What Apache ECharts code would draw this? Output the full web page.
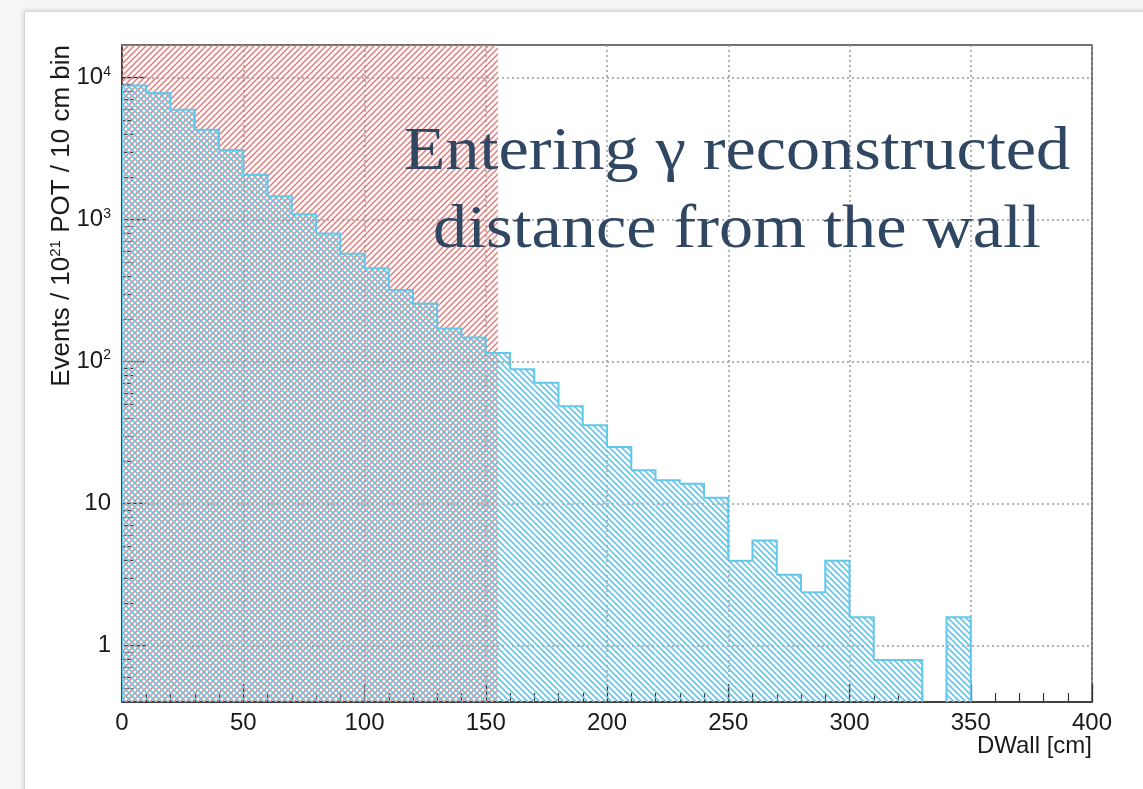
<!DOCTYPE html>
<html>
<head>
<meta charset="utf-8">
<script src="https://cdn.jsdelivr.net/npm/echarts@6/dist/echarts.min.js"></script>
<style>
  html, body { margin: 0; padding: 0; background: #f6f6f6; }
  body { position: relative; width: 1143px; height: 789px; overflow: hidden; }
  #card { position: absolute; left: 24px; top: 11px; width: 1200px; height: 900px;
          background: #fff; border: 1px solid #d6d6d6; box-shadow: 0 0 5px rgba(0,0,0,0.18); }
  #chart { position: absolute; left: 0; top: 0; width: 1143px; height: 789px; }
</style>
</head>
<body>
<div id="card"></div>
<div id="chart"></div>
<script>
// DWall histogram: 10 cm bins, events per 10^21 POT
const binWidth = 10;
const binStarts = [
  0, 10, 20, 30, 40, 50, 60, 70, 80, 90,
  100, 110, 120, 130, 140, 150, 160, 170, 180, 190,
  200, 210, 220, 230, 240, 250, 260, 270, 280, 290,
  300, 310, 320, 330, 340, 350, 360, 370, 380, 390
];
const eventsPerBin = [
  8800, 7800, 5950, 4300, 3100, 2070, 1460, 1090, 800, 575,
  455, 320, 257, 171, 148, 115, 88.5, 71, 48.5, 35.6,
  25, 17.2, 14.6, 13.8, 11.0, 3.95, 5.5, 3.15, 2.37, 3.95,
  1.58, 0.79, 0.79, 0, 1.58, 0, 0, 0, 0, 0
];
// fiducial cut region (shaded) on DWall
const cutRange = [0, 155];

const yDecades = [1, 10, 100, 1000, 10000];
const yDecadeExponents = [0, 1, 2, 3, 4];
const yRange = [0.4, 17000];

// minor log ticks: 2..9 times each decade, inside the range
const yMinorTicks = [];
[0.1, 1, 10, 100, 1000, 10000].forEach(function (d) {
  for (let k = 2; k <= 9; k++) {
    const v = +(d * k).toPrecision(3);
    if (v > yRange[0] && v < yRange[1]) yMinorTicks.push(v);
  }
});

function hatchPattern(color, dir, period, lw) {
  const c = document.createElement('canvas');
  c.width = period; c.height = period;
  const g = c.getContext('2d');
  g.strokeStyle = color;
  g.lineWidth = lw;
  g.lineCap = 'square';
  for (let k = -1; k <= 1; k++) {
    g.beginPath();
    if (dir === '/') {
      g.moveTo(k * period, period);
      g.lineTo(k * period + period, 0);
    } else {
      g.moveTo(k * period, 0);
      g.lineTo(k * period + period, period);
    }
    g.stroke();
  }
  return { image: c, repeat: 'repeat' };
}

const cyanColor = '#62c8ec';
const redColor = '#e47a78';
const cyanHatch = hatchPattern(cyanColor, '\\', 6, 1.7);
const redHatch = hatchPattern(redColor, '/', 6, 1.5);

const histData = binStarts.map(function (x, i) { return [x, eventsPerBin[i]]; });

function renderHist(params, api) {
  const i = params.dataIndex;
  const x0 = api.value(0);
  const v = api.value(1);
  if (!(v > 0)) return null;
  const x1 = x0 + binWidth;
  const cs = params.coordSys;
  const bottom = cs.y + cs.height;
  const tl = api.coord([x0, v]);
  const tr = api.coord([x1, v]);
  const prev = i > 0 ? eventsPerBin[i - 1] : 0;
  const next = i < eventsPerBin.length - 1 ? eventsPerBin[i + 1] : 0;
  const leftBase = prev >= v ? tl[1] : (prev > 0 ? api.coord([x0, prev])[1] : bottom);
  const rightBase = next >= v ? tr[1] : (next > 0 ? api.coord([x1, next])[1] : bottom);
  return {
    type: 'group',
    children: [
      {
        type: 'rect',
        shape: { x: tl[0], y: tl[1], width: tr[0] - tl[0], height: bottom - tl[1] },
        style: { fill: cyanHatch }
      },
      {
        type: 'polyline',
        shape: { points: [[tl[0], leftBase], tl, tr, [tr[0], rightBase]] },
        style: { stroke: cyanColor, lineWidth: 2, fill: null }
      }
    ]
  };
}

function renderCut(params, api) {
  const cs = params.coordSys;
  const a = api.coord([api.value(0), yRange[1]]);
  const b = api.coord([api.value(1), yRange[1]]);
  return {
    type: 'rect',
    shape: { x: a[0], y: cs.y, width: b[0] - a[0], height: cs.height },
    style: { fill: redHatch }
  };
}

const labelFont = 'Liberation Sans';
const labelColor = '#1a1a1a';
const chart = echarts.init(document.getElementById('chart'), null, { renderer: 'canvas' });

chart.setOption({
  animation: false,
  backgroundColor: 'transparent',
  grid: {
    left: 122, top: 45, right: 51, bottom: 87,
    show: true, borderColor: '#444', borderWidth: 1.5
  },
  xAxis: {
    type: 'value',
    min: 0, max: 400, interval: 50,
    axisLine: { show: true, lineStyle: { color: '#333', width: 1.5 } },
    axisTick: { inside: true, length: 18, lineStyle: { color: '#333', width: 1.3 } },
    minorTick: { show: true, splitNumber: 5, length: 9, lineStyle: { color: '#333', width: 1.2 } },
    axisLabel: {
      margin: 9, fontFamily: labelFont, fontSize: 24, color: labelColor,
      showMinLabel: true, showMaxLabel: true
    },
    splitLine: { show: true, lineStyle: { color: '#9a9a9a', width: 1.5, type: [2, 3] } }
  },
  yAxis: [
    {
      type: 'log', logBase: 10,
      min: yRange[0], max: yRange[1],
      axisLine: { show: true, lineStyle: { color: '#333', width: 1.5 } },
      axisTick: { inside: true, length: 24, customValues: yDecades, lineStyle: { color: '#333', width: 1.3 } },
      axisLabel: {
        customValues: yDecades,
        margin: 11,
        fontFamily: labelFont, fontSize: 24, color: labelColor,
        formatter: function (v) {
          const idx = yDecades.indexOf(v);
          const e = idx >= 0 ? yDecadeExponents[idx] : Math.round(Math.log10(v));
          if (e === 0) return '{b|1}';
          if (e === 1) return '{b|10}';
          return '{b|10}{s|' + e + '}';
        },
        rich: {
          b: { fontFamily: labelFont, fontSize: 24, color: labelColor, lineHeight: 26 },
          s: { fontFamily: labelFont, fontSize: 14, color: labelColor, verticalAlign: 'top', lineHeight: 26 }
        }
      },
      splitLine: { show: true, lineStyle: { color: '#9a9a9a', width: 1.5, type: [2, 3] } }
    },
    {
      type: 'log', logBase: 10,
      min: yRange[0], max: yRange[1],
      position: 'left',
      axisLine: { show: false },
      axisTick: { inside: true, length: 11, customValues: yMinorTicks, lineStyle: { color: '#333', width: 1.2 } },
      axisLabel: { show: false },
      splitLine: { show: false }
    }
  ],
  series: [
    {
      name: 'cut',
      type: 'custom',
      renderItem: renderCut,
      clip: true,
      z: 2,
      data: [cutRange]
    },
    {
      name: 'DWall',
      type: 'custom',
      renderItem: renderHist,
      clip: true,
      z: 3,
      data: histData
    }
  ],
  graphic: [
    {
      type: 'text',
      x: 62, y: 45,
      rotation: Math.PI / 2,
      style: {
        text: '{a|Events / 10}{s|21}{a| POT / 10 cm bin}',
        align: 'right',
        verticalAlign: 'middle',
        rich: {
          a: { fontFamily: labelFont, fontSize: 26, fill: labelColor, lineHeight: 28 },
          s: { fontFamily: labelFont, fontSize: 15, fill: labelColor, verticalAlign: 'top', lineHeight: 28 }
        }
      }
    },
    {
      type: 'text',
      x: 1092, y: 746,
      style: {
        text: 'DWall [cm]',
        align: 'right', verticalAlign: 'middle',
        fontFamily: labelFont, fontSize: 24, fill: labelColor
      }
    },
    {
      type: 'text',
      x: 737, y: 153, z: 10,
      scaleX: 1.1,
      style: {
        text: 'Entering γ reconstructed',
        align: 'center', verticalAlign: 'middle',
        fontFamily: 'Liberation Serif', fontSize: 62, fill: '#2f4763'
      }
    },
    {
      type: 'text',
      x: 737, y: 231, z: 10,
      scaleX: 1.1,
      style: {
        text: 'distance from the wall',
        align: 'center', verticalAlign: 'middle',
        fontFamily: 'Liberation Serif', fontSize: 62, fill: '#2f4763'
      }
    }
  ]
});
</script>
</body>
</html>
